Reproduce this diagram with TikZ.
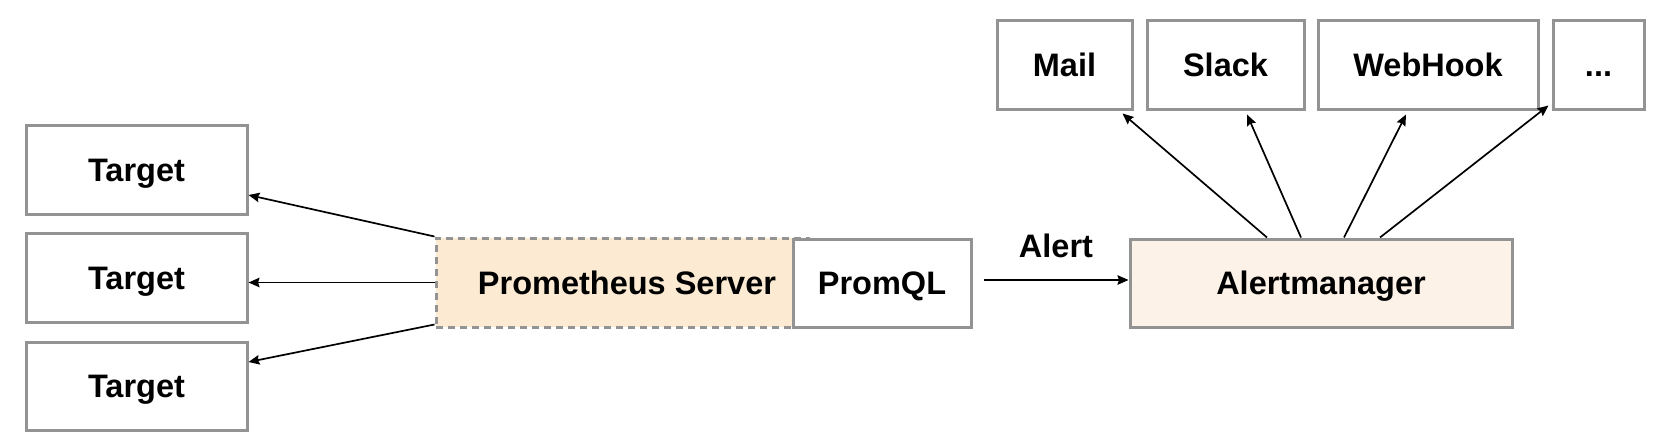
\documentclass[tikz,border=0pt]{standalone}
\usepackage{fontspec}
\setmainfont{Liberation Sans}
\usetikzlibrary{arrows.meta}
\definecolor{edgegray}{HTML}{939393}
\definecolor{promfill}{HTML}{FCEBD2}
\definecolor{amfill}{HTML}{FCF2E7}
\begin{document}
\begin{tikzpicture}[x=1pt,y=-1pt,
  box/.style={draw=edgegray,line width=3pt,fill=white,inner sep=0pt,
    text height=23.3pt,text depth=0pt,
    font=\fontsize{32.5}{36}\selectfont\bfseries},
  dashbox/.style={box,fill=promfill,dash pattern=on 7pt off 5pt},
  txt/.style={inner sep=0pt,text height=23.3pt,text depth=0pt,
    font=\fontsize{32.5}{36}\selectfont\bfseries},
  arr/.style={line width=1.7pt,-{Stealth[length=11pt,width=9.5pt,inset=1.5pt]}}]
\path[use as bounding box,fill=white] (0,0) rectangle (1669,440);

% targets
\node[box,minimum width=221pt,minimum height=89pt] (t1) at (136.5,169.5) {Target};
\node[box,minimum width=221pt,minimum height=89pt] (t2) at (136.5,277.5) {Target};
\node[box,minimum width=221pt,minimum height=88pt] (t3) at (136.5,386) {Target};

% prometheus server + promql
\node[dashbox,minimum width=372pt,minimum height=89pt] (prom) at (622,282.5) {};
\node[txt] (promlabel) at (627,282.5) {Prometheus Server};
\node[box,minimum width=178pt,minimum height=88pt] (promql) at (882,283) {PromQL};

% alertmanager
\node[box,fill=amfill,minimum width=382pt,minimum height=88pt] (am) at (1321,283) {Alertmanager};

% receivers
\node[box,minimum width=135pt,minimum height=89pt] (mail) at (1064.5,64.5) {Mail};
\node[box,minimum width=157pt,minimum height=89pt] (slack) at (1225.5,64.5) {Slack};
\node[box,minimum width=220pt,minimum height=89pt] (webhook) at (1428,64.5) {WebHook};
\node[box,minimum width=91pt,minimum height=89pt] (more) at (1598.5,64.5) {...};

% prometheus -> targets
\draw[arr] (prom.north west) -- ([yshift=-25.5pt]t1.east);
\draw[arr] (prom.west) -- (t2.east |- prom.west);
\draw[arr] ([yshift=4pt]prom.south west) -- ([yshift=24pt]t3.east);

% alert
\draw[arr] ([xshift=11pt,yshift=3pt]promql.east) -- node[txt,above=22pt] (alertlabel) {Alert} ([yshift=3pt]am.west);

% alertmanager -> receivers
\draw[arr] ([xshift=-54pt]am.north) -- ([xshift=-11pt,yshift=-3pt]mail.south east);
\draw[arr] ([xshift=-20pt]am.north) -- ([xshift=21.5pt,yshift=-4pt]slack.south);
\draw[arr] ([xshift=23pt]am.north) -- ([xshift=-22pt,yshift=-4pt]webhook.south);
\draw[arr] ([xshift=59pt]am.north) -- ([xshift=-3pt,yshift=5pt]more.south west);
\end{tikzpicture}
\end{document}
